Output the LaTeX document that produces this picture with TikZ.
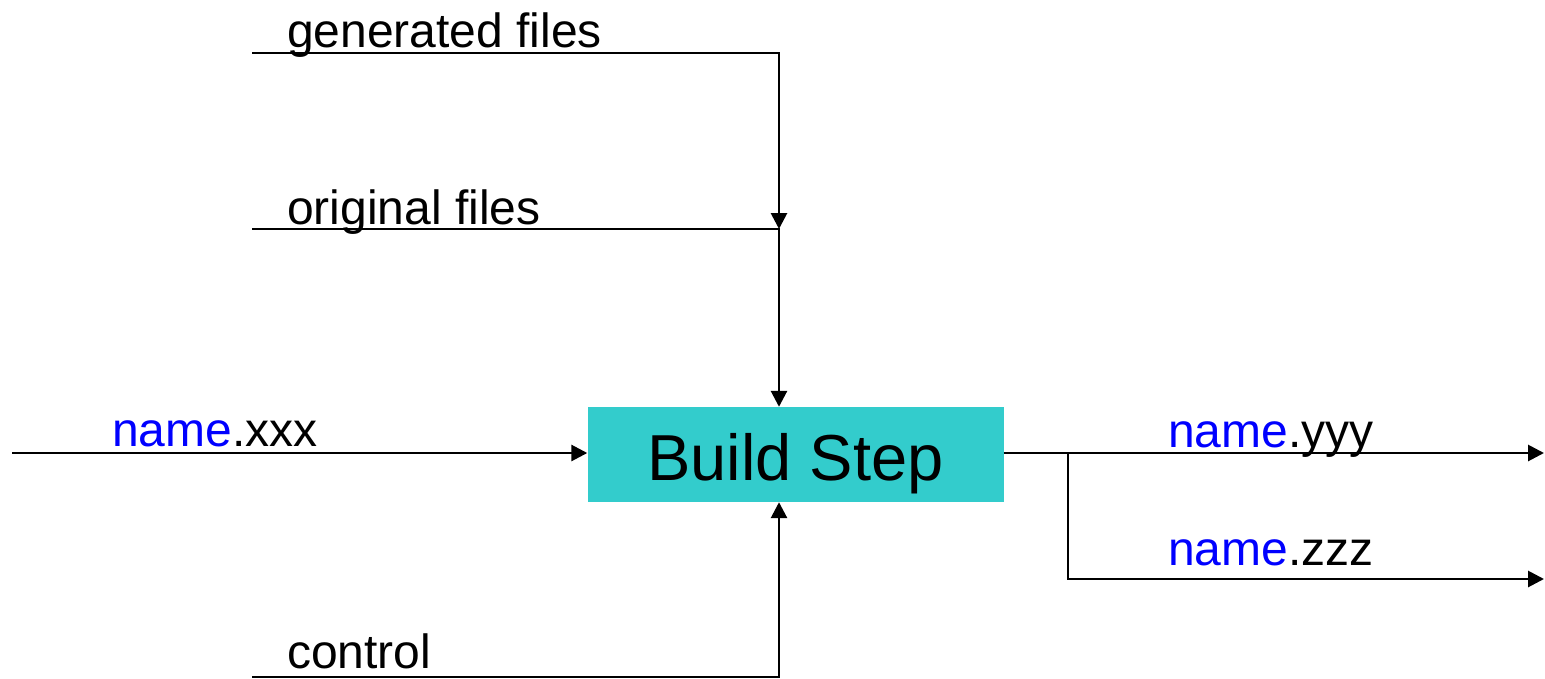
\documentclass[tikz,border=0pt]{standalone}
\usepackage{fontspec}
\setmainfont{Liberation Sans}
\usetikzlibrary{arrows.meta}
\definecolor{boxcyan}{HTML}{33CCCC}
\definecolor{nameblue}{HTML}{0000FF}
\tikzset{
  conn/.style={line width=2.8pt, line join=miter},
  arr/.style={conn, -{Triangle[length=16pt,width=16pt]}},
  lbl/.style={anchor=base west, inner sep=0pt, font=\fontsize{48}{56}\selectfont},
  stepbox/.style={fill=boxcyan, minimum width=416pt, minimum height=95pt, inner sep=0pt, font=\fontsize{65}{72}\selectfont}
}
\newcommand{\nm}{\textcolor{nameblue}{name}}
\begin{document}
\begin{tikzpicture}[x=1pt,y=-1pt]
\useasboundingbox (0,0) rectangle (1545,678);
\node[stepbox] (bs) at (795.5,454.5) {};
\node[anchor=base, inner sep=0pt, font=\fontsize{65}{72}\selectfont] (bst) at (795.5,480) {Build Step};
\coordinate (g0) at (252,53);
\coordinate (g1) at (779,53);
\coordinate (j) at (779,229);
\coordinate (o0) at (252,229);
\coordinate (c0) at (252,677);
\coordinate (c1) at (779,677);
\coordinate (in0) at (12,453);
\coordinate (b) at (1068,453);
\coordinate (b1) at (1068,579);
\coordinate (out1) at (1544,453);
\coordinate (out2) at (1544,579);
\draw[arr] (g0) -- (g1) -- (j);
\draw[arr] (o0) -- (j) -- (j |- bs.north);
\draw[arr] (c0) -- (c1) -- (c1 |- bs.south);
\draw[arr] (in0) -- (in0 -| bs.west);
\draw[arr] (bs.east |- out1) -- (out1);
\draw[arr] (b) -- (b1) -- (out2);
\node[lbl] (tg) at (287,47) {generated files};
\node[lbl] (to) at (287,224) {original files};
\node[lbl] (tc) at (287,668) {control};
\node[lbl] (tx) at (112,446) {\nm.xxx};
\node[lbl] (ty) at (1168,447) {\nm.yyy};
\node[lbl] (tz) at (1168,565) {\nm.zzz};
\end{tikzpicture}
\end{document}
